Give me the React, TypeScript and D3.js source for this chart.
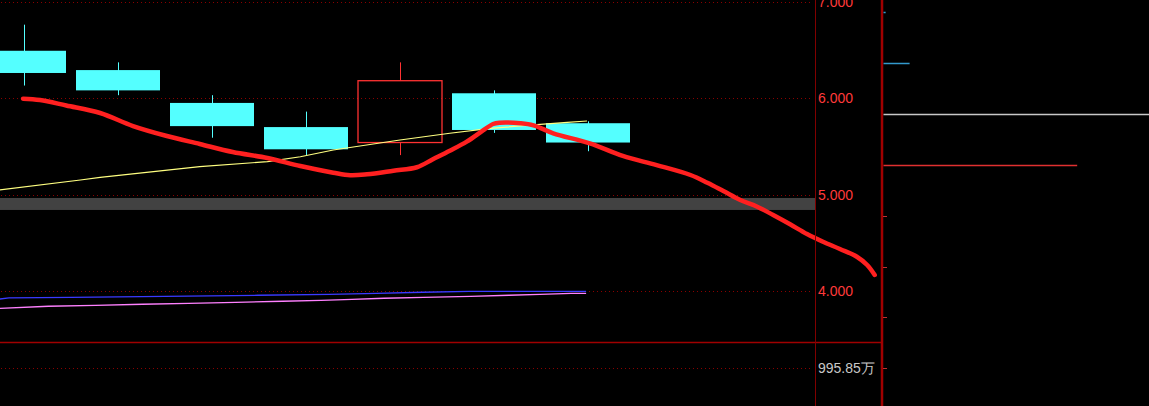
import * as d3 from 'd3';
import React from 'react';

// candles (price)
const opens = [6.49, 6.29, 5.95, 5.70, 5.54, 6.05, 5.74];
const closes = [6.26, 6.08, 5.71, 5.47, 6.18, 5.67, 5.54];
const highs = [6.76, 6.37, 6.03, 5.86, 6.37, 6.08, 5.76];
const lows = [6.13, 6.03, 5.59, 5.41, 5.41, 5.64, 5.45];

// thick red forecast curve: [bar index, price]
const trendLine: [number, number][] = [
	[-0.01, 5.994], [0.17, 5.98], [0.45, 5.923], [0.81, 5.846], [1.16, 5.711], [1.52, 5.608],
	[1.87, 5.525], [2.22, 5.442], [2.59, 5.38], [2.94, 5.297], [3.29, 5.228], [3.47, 5.201],
	[3.65, 5.211], [3.93, 5.248], [4.18, 5.284], [4.35, 5.367], [4.53, 5.455], [4.71, 5.549],
	[4.88, 5.663], [4.99, 5.732], [5.06, 5.745], [5.28, 5.739], [5.42, 5.718], [5.63, 5.636],
	[6.02, 5.532], [6.37, 5.401], [6.73, 5.307], [7.09, 5.204], [7.27, 5.124], [7.44, 5.038],
	[7.62, 4.945], [7.8, 4.876], [7.97, 4.79], [8.15, 4.694], [8.33, 4.593], [8.5, 4.513],
	[8.68, 4.438], [8.86, 4.358], [8.97, 4.272], [9.05, 4.169],
];

// moving averages
const maYellow: [number, number][] = [
	[-0.26, 5.049], [0.6, 5.152], [0.81, 5.18], [1.87, 5.29], [2.59, 5.342], [2.94, 5.393],
	[3.29, 5.463], [4.0, 5.566], [4.53, 5.636], [4.96, 5.687], [5.42, 5.722], [5.78, 5.749], [5.99, 5.763],
];
const maBlue: [number, number][] = [
	[-0.26, 3.92], [-0.16, 3.931], [0.5, 3.938], [1.5, 3.948], [2.49, 3.959], [3.25, 3.969],
	[3.75, 3.979], [4.24, 3.99], [4.74, 4.0], [5.98, 4.0],
];
const maPink: [number, number][] = [
	[-0.26, 3.824], [0.26, 3.845], [0.76, 3.855], [1.26, 3.866], [1.75, 3.876], [2.25, 3.886],
	[2.75, 3.897], [3.16, 3.907], [3.49, 3.917], [3.83, 3.928], [4.25, 3.938], [4.75, 3.948],
	[5.16, 3.959], [5.49, 3.969], [5.82, 3.979], [5.98, 3.979],
];

const priceTicks = [4, 5, 6, 7];
const grayBand = [4.842, 4.966];
const volumeTicks = [995.85];

// right panel levels
const rightTicks = [0, 1, 2, 3, 4, 5, 6, 7];
const rightValues = [1, 10, 100, 73];
const rightColors = ['#3399cc', '#3399cc', '#c8c8c8', '#e03030'];

const W = 1149;
const H = 406;
const axisX = 815.5;
const panelX = 882;

export default function App(): React.JSX.Element {
	const x = d3.scaleLinear().domain([0, 9]).range([24, 870]);
	const y = d3.scaleLinear().domain([4, 7]).range([291.3, 1.5]);
	const vol = d3.scaleLinear().domain([0, 1690]).range([406, 342]);
	const ry = d3.scaleLinear().domain([0, 7]).range([12.3, 368.3]);
	const rx = d3.scaleLinear().domain([0, 100]).range([panelX + 1, W]);
	const bodyW = 84;

	const line = d3.line<[number, number]>().x(d => x(d[0])).y(d => y(d[1]));
	const smooth = d3.line<[number, number]>().x(d => x(d[0])).y(d => y(d[1])).curve(d3.curveCatmullRom);
	const fmt = d3.format('.3f');

	return (
		<div style={{ position: 'fixed', left: 0, top: 0, width: W, height: H, background: '#000' }}>
			<svg width={W} height={H} style={{ display: 'block' }}>
				<rect width={W} height={H} fill="#000" />

				{priceTicks.map(t => (
					<line key={t} x1={1} x2={axisX - 3} y1={Math.round(y(t)) + 0.5} y2={Math.round(y(t)) + 0.5}
						stroke="#8a0000" strokeDasharray="1 3" shapeRendering="crispEdges" />
				))}
				{volumeTicks.map(t => (
					<line key={t} x1={1} x2={axisX - 3} y1={Math.round(vol(t)) + 0.5} y2={Math.round(vol(t)) + 0.5}
						stroke="#8a0000" strokeDasharray="1 3" shapeRendering="crispEdges" />
				))}

				<rect x={0} y={y(grayBand[1])} width={axisX} height={y(grayBand[0]) - y(grayBand[1])} fill="#424242" />

				<path d={line(maBlue) ?? ''} fill="none" stroke="#3a3aff" strokeWidth={1.3} />
				<path d={line(maPink) ?? ''} fill="none" stroke="#ff80ff" strokeWidth={1.3} />

				{opens.map((o, i) => {
					const c = closes[i];
					const up = c > o;
					const color = up ? '#ff3232' : '#54ffff';
					const cx = Math.round(x(i)) + 0.5;
					const top = y(Math.max(o, c));
					const bot = y(Math.min(o, c));
					return (
						<g key={i}>
							{up ? (
								<>
									<line x1={cx} x2={cx} y1={y(highs[i])} y2={top} stroke={color} />
									<line x1={cx} x2={cx} y1={bot} y2={y(lows[i])} stroke={color} />
									<rect x={x(i) - bodyW / 2} y={top} width={bodyW} height={bot - top}
										fill="none" stroke={color} strokeWidth={1.3} />
								</>
							) : (
								<>
									<line x1={cx} x2={cx} y1={y(highs[i])} y2={y(lows[i])} stroke={color} />
									<rect x={x(i) - bodyW / 2} y={top} width={bodyW} height={bot - top} fill={color} />
								</>
							)}
						</g>
					);
				})}

				<path d={line(maYellow) ?? ''} fill="none" stroke="#ffff80" strokeWidth={1.2} />
				<path d={smooth(trendLine) ?? ''} fill="none" stroke="#ff2020" strokeWidth={4.5}
					strokeLinejoin="round" strokeLinecap="round" />

				<line x1={0} x2={panelX} y1={342.5} y2={342.5} stroke="#a00000" strokeWidth={1.5} />
				<line x1={axisX} x2={axisX} y1={0} y2={H} stroke="#800000" />
				<line x1={panelX} x2={panelX} y1={0} y2={H} stroke="#a00000" strokeWidth={2.5} />

				{priceTicks.map(t => (
					<text key={t} x={818} y={y(t)} dy="0.36em" fill="#ff3a3a"
						fontFamily="Liberation Sans, Arial, sans-serif" fontSize={14}>{fmt(t)}</text>
				))}
				{volumeTicks.map(t => (
					<text key={t} x={818} y={vol(t)} dy="0.36em" fill="#c8c8c8"
						fontFamily="Liberation Sans, Arial, sans-serif" fontSize={14}>{`${t}万`}</text>
				))}

				{rightTicks.slice(4).map(t => (
					<line key={t} x1={panelX + 1} x2={panelX + 5} y1={Math.round(ry(t)) + 0.5} y2={Math.round(ry(t)) + 0.5}
						stroke="#c03030" />
				))}
				{rightValues.map((v, i) => (
					<line key={i} x1={panelX + 1.5} x2={rx(v)} y1={Math.round(ry(rightTicks[i])) + 0.5}
						y2={Math.round(ry(rightTicks[i])) + 0.5} stroke={rightColors[i]} strokeWidth={1.5} />
				))}
			</svg>
		</div>
	);
}
